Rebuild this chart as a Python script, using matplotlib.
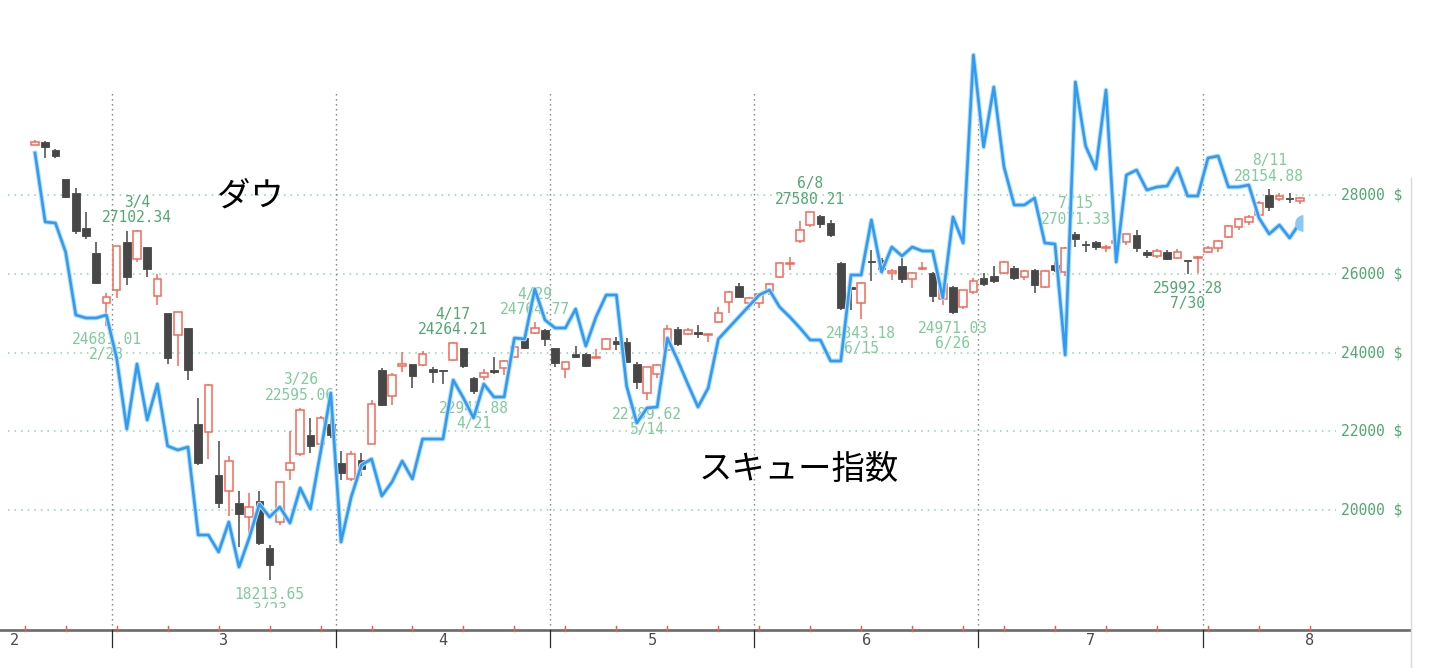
import datetime as dt
import matplotlib
matplotlib.use('Agg')
import matplotlib.pyplot as plt
import matplotlib.font_manager as fm
import matplotlib.patheffects as pe
from matplotlib.patches import Rectangle
from matplotlib.transforms import Bbox, blended_transform_factory

# ---------------- data ----------------
dates = ['2/19', '2/20', '2/21', '2/24', '2/25', '2/26', '2/27', '2/28',
         '3/2', '3/3', '3/4', '3/5', '3/6', '3/9', '3/10', '3/11', '3/12', '3/13',
         '3/16', '3/17', '3/18', '3/19', '3/20', '3/23', '3/24', '3/25', '3/26',
         '3/27', '3/30', '3/31',
         '4/1', '4/2', '4/3', '4/6', '4/7', '4/8', '4/9', '4/13', '4/14', '4/15',
         '4/16', '4/17', '4/20', '4/21', '4/22', '4/23', '4/24', '4/27', '4/28',
         '4/29', '4/30',
         '5/1', '5/4', '5/5', '5/6', '5/7', '5/8', '5/11', '5/12', '5/13', '5/14',
         '5/15', '5/18', '5/19', '5/20', '5/21', '5/22', '5/26', '5/27', '5/28', '5/29',
         '6/1', '6/2', '6/3', '6/4', '6/5', '6/8', '6/9', '6/10', '6/11', '6/12',
         '6/15', '6/16', '6/17', '6/18', '6/19', '6/22', '6/23', '6/24', '6/25',
         '6/26', '6/29', '6/30',
         '7/1', '7/2', '7/6', '7/7', '7/8', '7/9', '7/10', '7/13', '7/14', '7/15',
         '7/16', '7/17', '7/20', '7/21', '7/22', '7/23', '7/24', '7/27', '7/28',
         '7/29', '7/30', '7/31',
         '8/3', '8/4', '8/5', '8/6', '8/7', '8/10', '8/11', '8/12', '8/13', '8/14']

dow_open = [29279, 29340, 29150, 28402, 28043, 27170, 26535, 25264,
            25590, 26800, 26383, 26687, 25442, 24992, 24453, 24610, 22183, 21973,
            20888, 20476, 20184, 19814, 20235, 19028, 19689, 21016, 21422,
            21898, 21676, 22183,
            21204, 20785, 21269, 21668, 23555, 22895, 23664, 23700, 23682, 23580,
            23560, 23810, 24107, 23360, 23385, 23555, 23598, 23878, 24360,
            24487, 24571,
            24125, 23573, 23954, 23961, 23860, 24081, 24290, 24274, 23708, 22979,
            23453, 24063, 24588, 24470, 24530, 24440, 24782, 25290, 25689, 25250,
            25250, 25569, 25910, 26247, 26832, 27238, 27467, 27281, 26282, 25660,
            25249, 26330, 26349, 26010, 26197, 25859, 26130, 26010, 25350,
            25655, 25163, 25544,
            25884, 25943, 26011, 26153, 25925, 26095, 25671, 26222, 26052, 27009,
            26760, 26799, 26650, 26790, 26814, 26984, 26560, 26451, 26545,
            26392, 26350, 26410,
            26545, 26646, 26941, 27179, 27322, 27492, 27990, 27891, 27920, 27855]

dow_high = [29408, 29370, 29180, 28402, 28170, 27560, 26800, 25505,
            26706, 27084, 27102.34, 26690, 25986, 24992, 25041, 24610, 22837, 23189,
            21760, 21372, 20483, 20440, 20490, 19121, 20705, 22000, 22595.06,
            22327, 22378, 22473,
            21491, 21490, 21447, 22783, 23598, 23473, 24008, 23710, 24038, 23640,
            23565, 24264.21, 24110, 23380, 23575, 23887, 23800, 24190, 24400,
            24764.77, 24600,
            24125, 23760, 24165, 23990, 24081, 24380, 24386, 24360, 23750, 23640,
            23720, 24698, 24650, 24620, 24700, 24480, 25163, 25550, 25760, 25400,
            25490, 25760, 26290, 26418, 27338, 27580.21, 27500, 27360, 26290, 25892,
            25800, 26610, 26400, 26110, 26434, 26040, 26290, 26050, 25760,
            25700, 25600, 25900,
            26010, 26200, 26330, 26200, 26100, 26120, 26100, 26300, 26690, 27071.33,
            26830, 26840, 26720, 27000, 27020, 27100, 26600, 26620, 26600,
            26640, 26360, 26440,
            26700, 26850, 27250, 27420, 27500, 27840, 28154.88, 28040, 28050, 27960]

dow_low = [29273, 28950, 28930, 27921, 27010, 26875, 25747, 24681.01,
           25380, 25706, 26290, 25925, 25206, 23706, 23664, 23300, 21154, 21285,
           20060, 19847, 19060, 19400, 19120, 18213.65, 19620, 20762, 21380,
           21439, 21600, 21820,
           20762, 20735, 20863, 21668, 22630, 22666, 23514, 23090, 23650, 23232,
           23200, 23780, 23600, 22941.88, 23300, 23450, 23430, 23860, 24080,
           24470, 24165,
           23627, 23343, 23850, 23640, 23850, 24060, 24063, 23760, 23065, 22789.62,
           23360, 24040, 24170, 24450, 24370, 24270, 24760, 25010, 25380, 25080,
           25130, 25460, 25880, 26095, 26780, 27200, 27154, 26940, 25080, 25079,
           24843.18, 25823, 26050, 25850, 25760, 25650, 26100, 25290, 25200,
           24971.03, 25100, 25480,
           25700, 25760, 25990, 25850, 25830, 25504, 25630, 26050, 25950, 26687,
           26540, 26600, 26560, 26720, 26720, 26540, 26390, 26400, 26360,
           26380, 25992.28, 26027,
           26520, 26550, 26920, 27100, 27250, 27460, 27600, 27850, 27800, 27760]

dow_close = [29348, 29220, 28992, 27960, 27081, 26957, 25766, 25409,
             26703, 25917, 27090, 26121, 25864, 23851, 25018, 23553, 21200, 23185,
             20188, 21237, 19899, 20087, 19174, 18592, 20704, 21200, 22552,
             21636, 22327, 21917,
             20943, 21413, 21052, 22680, 22654, 23434, 23719, 23391, 23950, 23504,
             23538, 24242, 23650, 23019, 23476, 23515, 23775, 24134, 24102,
             24634, 24346,
             23724, 23750, 23883, 23665, 23876, 24331, 24222, 23765, 23248, 23625,
             23685, 24597, 24207, 24576, 24474, 24465, 24995, 25548, 25401, 25383,
             25475, 25743, 26270, 26282, 27111, 27572, 27272, 26990, 25128, 25605,
             25763, 26290, 26120, 26080, 25871, 26025, 26156, 25446, 25746,
             25016, 25596, 25813,
             25735, 25827, 26287, 25890, 26067, 25706, 26075, 26086, 26643, 26870,
             26735, 26672, 26681, 26840, 27006, 26652, 26470, 26585, 26379,
             26540, 26314, 26428,
             26664, 26828, 27202, 27387, 27433, 27791, 27687, 27977, 27897, 27931]

skew_index = [142.16, 136.64, 136.56, 134.24, 129.2, 128.96, 128.96, 129.2,
              125.76, 120.08, 125.28, 120.8, 123.68, 118.72, 118.4, 118.64, 111.6, 111.6,
              110.24, 112.64, 109.04, 111.36, 114.08, 113.04, 113.84, 112.56, 115.36,
              113.68, 118.24, 122.96,
              111.04, 114.64, 117.2, 117.68, 114.72, 115.84, 117.52, 116.08, 119.28, 119.28,
              119.28, 124.0, 122.56, 120.96, 123.68, 122.64, 122.64, 127.36, 127.28,
              131.28, 128.8,
              128.16, 128.16, 129.68, 126.72, 129.04, 130.8, 130.8, 123.52, 120.56, 121.76,
              121.84, 127.36, 125.6, 123.68, 121.84, 123.36, 127.28, 128.16, 129.04, 129.92,
              130.8, 131.2, 129.84, 129.04, 128.16, 127.2, 127.2, 125.52, 125.52, 132.4,
              132.4, 136.8, 132.64, 134.64, 133.92, 134.64, 134.32, 134.32, 130.56,
              137.04, 134.96, 150.0,
              142.64, 147.44, 141.04, 138.0, 138.0, 138.56, 134.96, 134.88, 126.0, 147.84,
              142.72, 140.88, 147.2, 133.44, 140.4, 140.8, 139.2, 139.44, 139.52,
              140.96, 138.72, 138.72,
              141.76, 141.92, 139.44, 139.44, 139.6, 136.96, 135.68, 136.4, 135.36, 136.56]

# annotated extremes: (date, which price)
extremes = [('2/28', 'low'), ('3/4', 'high'), ('3/23', 'low'), ('3/26', 'high'),
            ('4/17', 'high'), ('4/21', 'low'), ('4/29', 'high'), ('5/14', 'low'),
            ('6/8', 'high'), ('6/15', 'low'), ('6/26', 'low'), ('7/15', 'high'),
            ('7/30', 'low'), ('8/11', 'high')]
dark_label_dates = ['3/4', '4/17', '6/8', '7/30']

month_labels = ['2', '3', '4', '5', '6', '7', '8']
month_trading_days = [19, 22, 21, 20, 22, 22, 21]
price_ticks = [20000, 22000, 24000, 26000, 28000]
price_tick_labels = [f'{v} $' for v in price_ticks]
title_dow = 'ダウ'
title_skew = 'スキュー指数'

n = len(dates)
assert len(dow_open) == n and len(dow_high) == n and len(dow_low) == n
assert len(dow_close) == n and len(skew_index) == n

# ---------------- layout ----------------
W, H = 1454, 668
X0_PX, DX_PX = 35.0, 10.2          # pixel x of first candle, spacing
Y28_PX, PX_PER_PT = 195.0, 0.039375  # pixel y of 28000, pixels per Dow point
AXIS_PX, RIGHT_PX = 630, 1410
SKEW_TOP, SKEW_BOTTOM = 154.4, 104.0

names = {f.name for f in fm.fontManager.ttflist}
if 'Liberation Sans Narrow' in names:
    NUM_FONT, NUM_SIZE, MON_SIZE = 'Liberation Sans Narrow', 13.2, 12
else:
    NUM_FONT, NUM_SIZE, MON_SIZE = 'DejaVu Sans Mono', 10.5, 11
JP_FONT = ['Noto Sans CJK JP', 'DejaVu Sans']


def xi(px):
    return (px - X0_PX) / DX_PX


def yv(py):
    return 28000 - (py - Y28_PX) / PX_PER_PT


fig = plt.figure(figsize=(W / 100, H / 100), dpi=100)
fig.patch.set_facecolor('white')
ax = fig.add_axes([0, (H - AXIS_PX) / H, RIGHT_PX / W, AXIS_PX / H])
ax.set_xlim(xi(0), xi(RIGHT_PX))
ax.set_ylim(yv(AXIS_PX), yv(0))
ax.set_facecolor('none')
for s in ['top', 'left', 'right']:
    ax.spines[s].set_visible(False)
ax.spines['bottom'].set_color('#6a6a6a')
ax.spines['bottom'].set_linewidth(1.9)
ax.set_xticks([])
ax.set_yticks([])

GREEN_GRID = '#8cd3a6'
LIGHT_GREEN = '#7fcb99'
DARK_GREEN = '#4fa870'
UP_COL = '#f4695a'
DOWN_COL = '#474747'
LINE_COL = '#2f9cf1'

# horizontal grid + right labels
for v, lab in zip(price_ticks, price_tick_labels):
    ax.plot([xi(8), xi(1336)], [v, v], color=GREEN_GRID, lw=1.1,
            linestyle=(0, (1, 3.3)), zorder=1)
    ax.text(xi(1341), v, lab, ha='left', va='center', color=DARK_GREEN,
            fontsize=NUM_SIZE, family=NUM_FONT, zorder=2)

# month boundaries
month_of = [int(d.split('/')[0]) for d in dates]
bounds = [i - 0.5 for i in range(1, n) if month_of[i] != month_of[i - 1]]
for b in bounds:
    ax.plot([b, b], [yv(AXIS_PX), yv(90)], color='#7a7a7a', lw=1.0,
            linestyle=(0, (1, 2.6)), zorder=1)
trans_b = blended_transform_factory(ax.transData, ax.transAxes)
for b in bounds:
    ax.plot([b, b], [0, -17 / AXIS_PX], color='#2a2a2a', lw=0.9,
            transform=trans_b, clip_on=False, zorder=5)
starts = [bounds[0] - month_trading_days[0]] + bounds
for s0, nd, lab in zip(starts, month_trading_days, month_labels):
    ax.text(s0 + nd / 2, -10.5 / AXIS_PX, lab, transform=trans_b, ha='center',
            va='center', fontsize=MON_SIZE, family=NUM_FONT, color='#4a4a4a')

# weekly red ticks
dd = [dt.date(2020, int(d.split('/')[0]), int(d.split('/')[1])) for d in dates]
week_idx = [-1] + [i for i in range(1, n)
                   if dd[i].isocalendar()[1] != dd[i - 1].isocalendar()[1]] + [n]
for w in week_idx:
    ax.plot([w, w], [4.5 / AXIS_PX, -0.5 / AXIS_PX], color='#ff5544', lw=1.0,
            transform=trans_b, clip_on=False, zorder=6)

# candles
BW = 0.74
for i in range(n):
    o, h, l, c = dow_open[i], dow_high[i], dow_low[i], dow_close[i]
    up = c >= o
    col = UP_COL if up else DOWN_COL
    top, bot = max(o, c), min(o, c)
    ax.plot([i, i], [bot, l], color=col, lw=1.1, zorder=3, solid_capstyle='butt')
    ax.plot([i, i], [top, h], color=col, lw=1.1, zorder=3, solid_capstyle='butt')
    hgt = max(top - bot, 8)
    if up:
        ax.add_patch(Rectangle((i - BW / 2, bot), BW, hgt, facecolor='white',
                               edgecolor=col, lw=1.1, zorder=3.5))
    else:
        ax.add_patch(Rectangle((i - BW / 2, bot), BW, hgt, facecolor=col,
                               edgecolor=col, lw=0.6, zorder=3.5))

# annotations of highs / lows
clip_box = Bbox([[0, H - 608], [W, H]])
for d, kind in extremes:
    i = dates.index(d)
    val = dow_high[i] if kind == 'high' else dow_low[i]
    col = DARK_GREEN if d in dark_label_dates else LIGHT_GREEN
    if kind == 'high':
        off_v, off_d = 12.5, 28
    else:
        off_v, off_d = -14, -29
    t1 = ax.annotate(f'{val:.2f}', xy=(i, val), xytext=(0, off_v),
                     textcoords='offset pixels', ha='center', va='center',
                     fontsize=NUM_SIZE, family=NUM_FONT, color=col, zorder=2)
    t2 = ax.annotate(d, xy=(i, val), xytext=(0, off_d),
                     textcoords='offset pixels', ha='center', va='center',
                     fontsize=NUM_SIZE, family=NUM_FONT, color=col, zorder=2)
    for t in (t1, t2):
        t.set_clip_on(True)
        t.set_clip_box(clip_box)

# Japanese titles
ax.text(xi(250), yv(196), title_dow, ha='center', va='center', fontsize=24,
        family=JP_FONT, color='black', zorder=7)
ax.text(xi(799), yv(469), title_skew, ha='center', va='center', fontsize=24,
        family=JP_FONT, color='black', zorder=7)

# skew index line
ax2 = ax.twinx()
ax2.set_ylim(SKEW_BOTTOM, SKEW_TOP)
ax2.set_xlim(ax.get_xlim())
ax2.axis('off')
ax2.plot(range(n), skew_index, color=LINE_COL, lw=1.9, zorder=5,
         path_effects=[pe.Stroke(linewidth=3.4, foreground='#b5dcfa'), pe.Normal()])
ax2.plot([n - 1 + 0.3], [skew_index[-1]], marker='o', ms=12, fillstyle='left',
         markerfacecolor='#8cc8f6', markerfacecoloralt='none',
         markeredgecolor='none', zorder=6)

# right border line of the chart frame
fig.add_artist(plt.Line2D([1411 / W, 1411 / W], [0, (H - 178) / H],
                          color='#d9d9d9', lw=1.0))

fig.savefig('out.png', dpi=100, facecolor='white')
